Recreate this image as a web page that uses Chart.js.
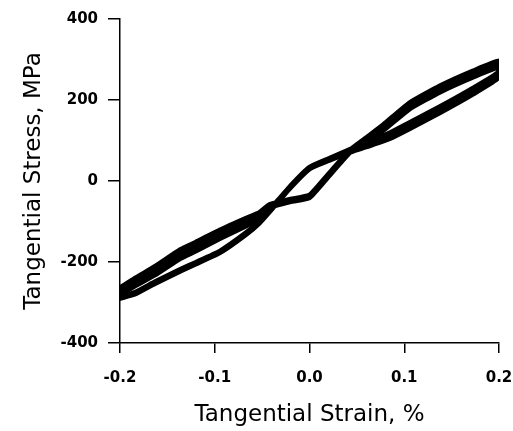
<!DOCTYPE html>
<html>
<head>
<meta charset="utf-8">
<script src="https://cdn.jsdelivr.net/npm/chart.js@4.4.1/dist/chart.umd.min.js"></script>
<style>
  html, body { margin: 0; padding: 0; background: #fff; }
  #wrap { width: 513px; height: 431px; }
</style>
</head>
<body>
<div id="wrap"><canvas id="loopChart" width="513" height="431"></canvas></div>
<script>
// Branch A: strain increasing (lower-left curve, top of the diamond, lower-right curve)
const strainA = [-0.2, -0.184, -0.163, -0.136, -0.12, -0.0945, -0.067, -0.053, -0.04, -0.02, 0.0, 0.02, 0.043, 0.067, 0.085, 0.103, 0.138, 0.173, 0.2];
// Branch B: strain decreasing (upper-right curve, bottom of the diamond, upper-left curve)
const strainB = [0.2, 0.173, 0.138, 0.105, 0.078, 0.06, 0.043, 0.02, 0.0, -0.02, -0.042, -0.053, -0.067, -0.0945, -0.12, -0.136, -0.163, -0.184, -0.2];

// stress (MPa), three overlapping cycles
const stressA1 = [-288, -277, -251, -220, -203, -175, -130, -102, -68, -14, 32, 52, 74, 95, 112, 133, 176, 222, 262];
const stressA2 = [-286, -275, -249, -218, -201, -173, -128, -100, -66, -12, 34, 55, 78, 101, 119, 141, 184, 230, 270];
const stressA3 = [-290, -279, -253, -222, -205, -177, -132, -104, -70, -16, 30, 50, 71, 90, 105, 126, 169, 215, 256];
const stressB1 = [288, 264, 227, 184, 132, 102, 74, 14, -38, -48, -62, -86, -102, -132, -162, -180, -222, -250, -273];
const stressB2 = [296, 272, 235, 192, 139, 107, 77, 17, -35, -45, -58, -78, -92, -121, -151, -169, -211, -240, -264];
const stressB3 = [281, 257, 220, 177, 125, 97, 71, 11, -41, -51, -66, -94, -111, -142, -173, -191, -232, -259, -281];

const yTicks = [-400, -200, 0, 200, 400];
const xTicks = [-0.2, -0.1, 0.0, 0.1, 0.2];

function loop(a, b) {
    const pts = strainA.map((x, i) => ({x: x, y: a[i]}));
    return pts.concat(strainB.map((x, i) => ({x: x, y: b[i]})));
}

const cycles = [
    loop(stressA1, stressB1),
    loop(stressA2, stressB2),
    loop(stressA3, stressB3)
];

const tickFont = { family: 'DejaVu Sans', size: 15, weight: 'bold' };
const titleFont = { family: 'DejaVu Sans', size: 23, weight: 'normal' };

new Chart(document.getElementById('loopChart'), {
    type: 'scatter',
    data: {
        datasets: cycles.map(c => ({
            data: c,
            showLine: true,
            borderColor: '#000',
            borderWidth: 5,
            borderJoinStyle: 'round',
            borderCapStyle: 'round',
            pointRadius: 0,
            tension: 0.15
        }))
    },
    options: {
        responsive: false,
        animation: false,
        layout: { padding: { top: 18, right: 14, left: 20, bottom: 0 } },
        plugins: {
            legend: { display: false },
            tooltip: { enabled: false }
        },
        scales: {
            x: {
                type: 'linear',
                min: -0.2,
                max: 0.2,
                afterBuildTicks: s => { s.ticks = xTicks.map(v => ({value: v})); },
                afterFit: s => { s.height = 88; s.paddingRight = 0; s.paddingLeft = 0; },
                border: { display: true, color: '#000', width: 1.5 },
                grid: { display: true, drawOnChartArea: false, drawTicks: true, tickLength: 10, color: '#000', lineWidth: 1.5 },
                ticks: {
                    color: '#000',
                    font: tickFont,
                    padding: 16,
                    callback: v => (Math.abs(v) < 1e-9 ? 0 : v).toFixed(1)
                },
                title: { display: true, text: 'Tangential Strain, %', color: '#000', font: titleFont, padding: { top: 8, bottom: 2 } }
            },
            y: {
                type: 'linear',
                min: -400,
                max: 400,
                afterBuildTicks: s => { s.ticks = yTicks.map(v => ({value: v})); },
                afterFit: s => { s.width = 100; },
                border: { display: true, color: '#000', width: 1.5 },
                grid: { display: true, drawOnChartArea: false, drawTicks: true, tickLength: 12, color: '#000', lineWidth: 1.5 },
                ticks: {
                    color: '#000',
                    font: tickFont,
                    padding: 10,
                    callback: v => String(v)
                },
                title: { display: true, text: 'Tangential Stress, MPa', color: '#000', font: titleFont, padding: { top: 0, bottom: 8 } }
            }
        }
    }
});
</script>
</body>
</html>
